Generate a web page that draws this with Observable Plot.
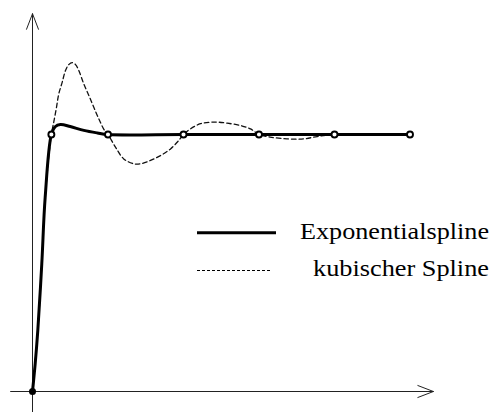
<!DOCTYPE html>
<html>
<head>
<meta charset="utf-8">
<script src="https://cdn.jsdelivr.net/npm/d3@7"></script>
<script src="https://cdn.jsdelivr.net/npm/@observablehq/plot@0.6"></script>
<style>
  html, body { margin: 0; padding: 0; background: #fff; }
  #chart { position: relative; width: 492px; height: 412px; }
</style>
</head>
<body>
<div id="chart"></div>
<script>
// Knots (interpolation nodes)
const knotX = [0, 0.25, 1, 2, 3, 4, 5];
const knotY = [0, 1, 1, 1, 1, 1, 1];

// Exponential spline
const expX = [0, 0.036, 0.07, 0.123, 0.168, 0.25, 0.3, 0.37, 0.5, 0.68, 0.86, 1, 2, 3, 4, 5];
const expY = [0, 0.109, 0.237, 0.497, 0.756, 1, 1.03, 1.039, 1.031, 1.016, 1.006, 1, 1, 1, 1, 1];

// Cubic spline
const cubX = [0, 0.07, 0.123, 0.168, 0.25, 0.282, 0.318, 0.348, 0.393, 0.437, 0.48, 0.525, 0.57, 0.613, 0.679, 0.746, 0.812, 0.878, 0.954, 1,
              1.099, 1.209, 1.342, 1.43, 1.563, 1.695, 1.828, 1.938, 2, 2.093, 2.225, 2.358, 2.46, 2.579, 2.755, 2.887, 3,
              3.146, 3.37, 3.593, 3.77, 4, 4.5, 5];
const cubY = [0, 0.237, 0.497, 0.756, 1, 1.049, 1.106, 1.158, 1.203, 1.249, 1.272, 1.28, 1.272, 1.249, 1.197, 1.152, 1.106, 1.061, 1.016, 1,
              0.951, 0.905, 0.886, 0.886, 0.899, 0.918, 0.944, 0.977, 1, 1.022, 1.042, 1.048, 1.048, 1.044, 1.035, 1.022, 1,
              0.99, 0.983, 0.983, 0.992, 1, 1.002, 1];

// Axis extents (data units)
const axisX = [-0.29, 5.31];
const axisY = [-0.1, 1.47];

// Legend
const seriesNames = ["Exponentialspline", "kubischer Spline"];

const knots = knotX.map((x, i) => ({x, y: knotY[i]}));
const expo = expX.map((x, i) => ({x, y: expY[i]}));
const cub = cubX.map((x, i) => ({x, y: cubY[i]}));
const axes = [
  {x1: axisX[0], y1: 0, x2: axisX[1], y2: 0},
  {x1: 0, y1: axisY[0], x2: 0, y2: axisY[1]}
];

const plot = Plot.plot({
  width: 492,
  height: 412,
  margin: 0,
  style: {background: "#fff"},
  x: {domain: [0, 5], range: [32, 409.5], axis: null},
  y: {domain: [0, 1], range: [391, 134], axis: null},
  marks: [
    Plot.arrow(axes, {x1: "x1", y1: "y1", x2: "x2", y2: "y2", stroke: "#222", strokeWidth: 1, headLength: 25, headAngle: 42}),
    Plot.line(cub, {x: "x", y: "y", curve: "catmull-rom", stroke: "#111", strokeWidth: 1.3, strokeDasharray: "4.5,3"}),
    Plot.line(expo, {x: "x", y: "y", curve: "catmull-rom", stroke: "#000", strokeWidth: 3}),
    Plot.dot(knots.slice(0, 1), {x: "x", y: "y", r: 3.5, fill: "#000", stroke: "none"}),
    Plot.dot(knots.slice(1), {x: "x", y: "y", r: 3, fill: "#fff", stroke: "#000", strokeWidth: 1.9})
  ]
});

document.getElementById("chart").appendChild(plot);

// Legend drawn into the SVG
const svg = d3.select(plot);
const leg = svg.append("g");
const legendRows = [
  {name: seriesNames[0], y: 232.7, dash: null, sw: 3, x2: 276, textY: 238.7, len: 189},
  {name: seriesNames[1], y: 270.5, dash: "3,2", sw: 1.1, x2: 272, textY: 275.7, len: 176}
];
legendRows.forEach(r => {
  leg.append("line").attr("x1", 197).attr("x2", r.x2).attr("y1", r.y).attr("y2", r.y)
    .attr("stroke", "#000").attr("stroke-width", r.sw).attr("stroke-dasharray", r.dash);
  leg.append("text")
    .attr("x", 489).attr("y", r.textY).attr("text-anchor", "end")
    .attr("font-family", "Liberation Serif, DejaVu Serif")
    .style("font-family", "\"Liberation Serif\", \"DejaVu Serif\"")
    .style("font-size", "22.5px").attr("fill", "#000")
    .attr("textLength", r.len).attr("lengthAdjust", "spacingAndGlyphs").text(r.name);
});
</script>
</body>
</html>
